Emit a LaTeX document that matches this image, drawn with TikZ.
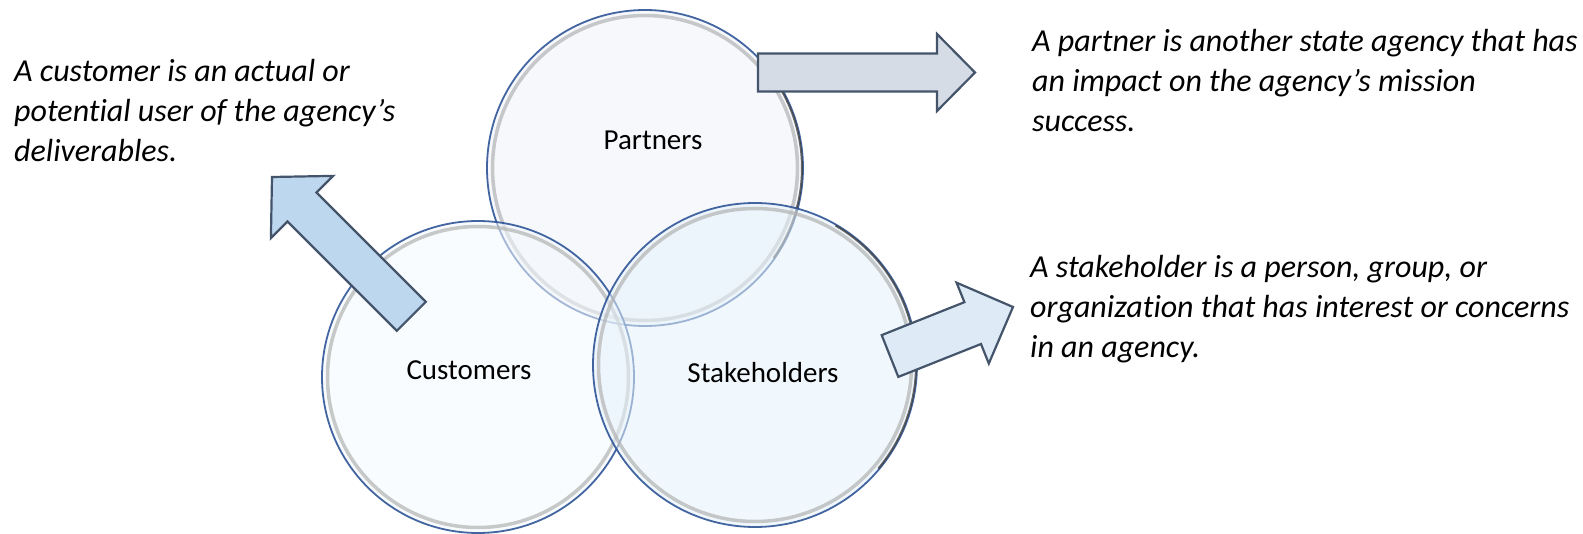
\documentclass[tikz,border=0pt]{standalone}
\usepackage{fontspec}
\setmainfont{Carlito}[Ligatures={NoCommon}]
\definecolor{ringblue}{HTML}{2F5597}
\definecolor{arrline}{HTML}{44546A}
\definecolor{fillL}{HTML}{BDD7EE}
\definecolor{fillT}{HTML}{D6DCE5}
\definecolor{fillR}{HTML}{DEEBF7}
\definecolor{partfill}{HTML}{EEF2F9}
\definecolor{custfill}{HTML}{F3F9FE}
\definecolor{stakefill}{HTML}{E6F3FC}
\begin{document}
\begin{tikzpicture}[x=1pt,y=-1pt,
  bubble/.style={circle,inner sep=0pt,draw=none,fill opacity=0.55},
  innerring/.style={draw=gray!60,line width=3.5pt,draw opacity=0.7},
  outerring/.style={draw=ringblue,line width=1.8pt,draw opacity=0.9},
  shadowarc/.style={draw=black!75,line width=2pt,draw opacity=0.8},
  lab/.style={font=\fontsize{29}{32}\selectfont,inner sep=0pt},
  desc/.style={font=\fontsize{32}{40}\selectfont\itshape,inner sep=0pt,anchor=base west},
  blockarrow/.style={draw=arrline,line width=2.2pt,line join=miter}]
\useasboundingbox (0,0) rectangle (1583,534);

% Partners
\node[bubble,minimum size=316pt,fill=partfill] (part) at (645,168) {};
\draw[innerring] (part.center) circle (152.5);
\draw[outerring] (part.center) circle (158);
\draw[shadowarc] (part.center) ++(-35:157) arc (-35:35:157);
% Customers
\node[bubble,minimum size=312pt,fill=custfill] (cust) at (478,377) {};
\draw[innerring] (cust.center) circle (150.5);
\draw[outerring] (cust.center) circle (156);
% Stakeholders
\node[bubble,minimum size=324pt,fill=stakefill] (stake) at (755,365) {};
\draw[innerring] (stake.center) circle (156.5);
\draw[outerring] (stake.center) circle (162);
\draw[shadowarc] (stake.center) ++(-60:161) arc (-60:40:161);

% labels
\node[lab] (partlab) at (653,140) {Partners};
\node[lab] (custlab) at (469,370) {Customers};
\node[lab] (stakelab) at (763,373) {Stakeholders};

% block arrows
\draw[blockarrow,fill=fillL] (272,177) -- (333.1,175.9) -- (316.5,192.5) -- (425.8,301.8)
  -- (396.8,330.8) -- (287.5,221.5) -- (270.9,238.1) -- cycle;
\draw[blockarrow,fill=fillT] (758,53.5) -- (937,53.5) -- (937,34) -- (975,72.5)
  -- (937,111) -- (937,91.5) -- (758,91.5) -- cycle;
\draw[blockarrow,fill=fillR] (1013,307) -- (956.6,282.7) -- (964.4,302.2) -- (881.7,335.1)
  -- (898.3,376.9) -- (981.0,344.0) -- (988.8,363.5) -- cycle;

% descriptions
\node[desc] (custtxt) at (14,82) {\begin{tabular}[t]{@{}l@{}}A customer is an actual or\\potential user of the agency’s\\deliverables.\end{tabular}};
\node[desc] (parttxt) at (1032,52) {\begin{tabular}[t]{@{}l@{}}A partner is another state agency that has\\an impact on the agency’s mission\\success.\end{tabular}};
\node[desc] (staketxt) at (1030,278) {\begin{tabular}[t]{@{}l@{}}A stakeholder is a person, group, or\\organization that has interest or concerns\\in an agency.\end{tabular}};
\end{tikzpicture}
\end{document}
